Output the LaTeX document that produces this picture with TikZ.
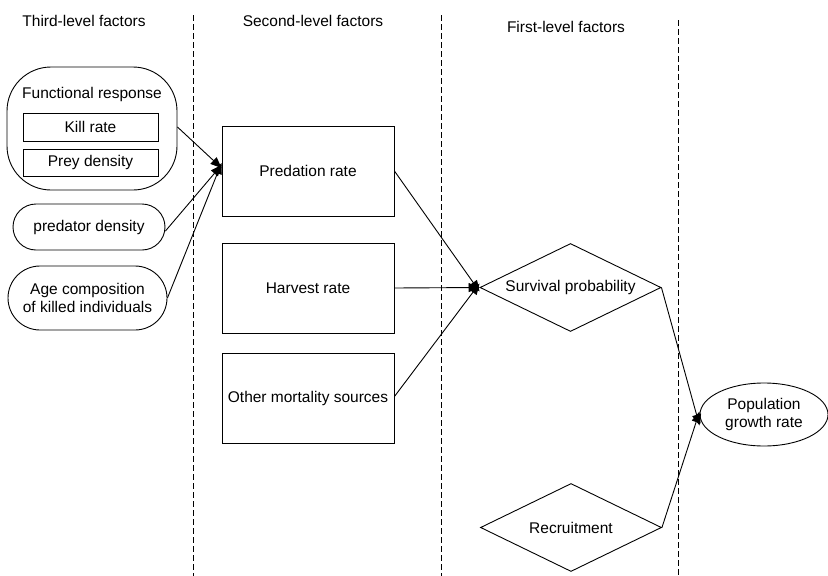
\documentclass[tikz,border=0pt]{standalone}
\usepackage{fontspec}
\setmainfont{Liberation Sans}
\usetikzlibrary{arrows.meta,shapes.geometric}
\begin{document}
\begin{tikzpicture}[x=1pt,y=-1pt,
  every node/.style={font=\fontsize{15.5}{18}\selectfont, inner sep=0pt},
  box/.style={draw, line width=0.9pt, minimum width=172pt, minimum height=90pt},
  smallbox/.style={draw, line width=0.9pt, minimum width=135pt, minimum height=27pt},
  roundbox/.style={draw, line width=0.9pt},
  dia/.style={draw, diamond, line width=0.9pt, minimum width=181pt, minimum height=88pt, aspect=2.05},
  divider/.style={dashed, dash pattern=on 6pt off 3pt, line width=0.8pt},
  conn/.style={line width=0.9pt, -{Triangle[length=11pt,width=9pt]}},
  hdr/.style={anchor=center}]
\useasboundingbox (0,0) rectangle (828,576);
\fill[white] (0,0) rectangle (828,576);

% dividers
\coordinate (d1t) at (193,15); \coordinate (d1b) at (193,576);
\coordinate (d2t) at (441,15); \coordinate (d2b) at (441,576);
\coordinate (d3t) at (678,20); \coordinate (d3b) at (678,576);
\draw[divider] (d1t) -- (d1b);
\draw[divider] (d2t) -- (d2b);
\draw[divider] (d3t) -- (d3b);

% headers
\node[hdr] (h3) at (84,21) {Third-level factors};
\node[hdr] (h2) at (313,21) {Second-level factors};
\node[hdr] (h1) at (566,27) {First-level factors};

% third level
\node[roundbox, rounded corners=44pt, minimum width=170pt, minimum height=123pt] (fr) at (92,128.5) {};
\node (frt) at (92,94) {Functional response};
\node[smallbox, minimum height=28pt] (kill) at (90.5,127) {Kill rate};
\node[smallbox] (prey) at (90.5,162.5) {Prey density};
\node[roundbox, rounded corners=23pt, minimum width=152pt, minimum height=46pt] (pd) at (89,227) {predator density};
\node[roundbox, rounded corners=32pt, minimum width=159pt, minimum height=64pt, align=center] (age) at (87.5,298) {Age composition\\of killed individuals};

% second level
\node[box] (pr) at (308,171) {Predation rate};
\node[box] (hr) at (308,288) {Harvest rate};
\node[box] (om) at (308,398.5) {Other mortality sources};

% first level
\node[dia] (sp) at (570.5,287.5) {Survival probability};
\node[dia] (rc) at (571,527.5) {Recruitment};

% population
\node[draw, ellipse, line width=0.9pt, minimum width=128pt, minimum height=63pt, align=center] (pg) at (764,414.5) {Population\\growth rate};

% connectors
\draw[conn] ([yshift=1.5pt]fr.east) -- ([yshift=3pt]pr.west);
\draw[conn] ([yshift=-4pt]pd.east) -- ([yshift=6pt]pr.west);
\draw[conn] (age.east) -- ([yshift=8pt]pr.west);

\draw[conn] (pr.east) -- ([yshift=-4pt]sp.west);
\draw[conn] (hr.east) -- (sp.west);
\draw[conn] ([yshift=2pt]om.east) -- ([yshift=4pt]sp.west);

\draw[conn] (sp.east) -- ([yshift=-11pt]pg.west);
\draw[conn] (rc.east) -- ([yshift=3pt]pg.west);
\end{tikzpicture}
\end{document}
